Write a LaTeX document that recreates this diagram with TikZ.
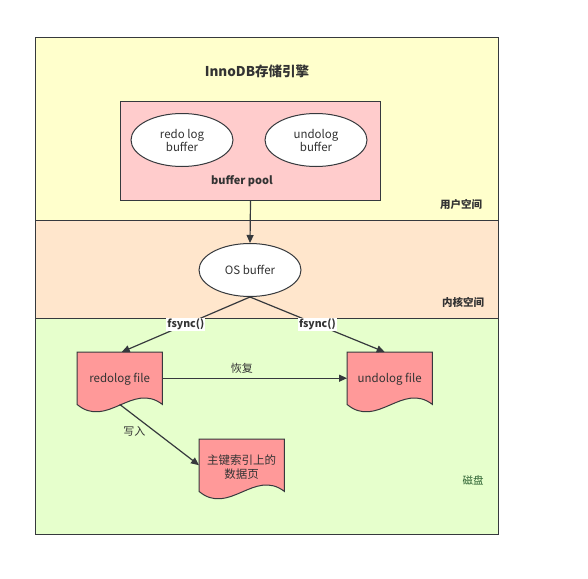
\documentclass[tikz,border=0pt]{standalone}
\usepackage{fontspec}
\setmainfont{Noto Sans CJK SC}
\usetikzlibrary{arrows.meta,shapes.geometric,calc}
\definecolor{edgec}{HTML}{36393D}
\definecolor{txtc}{HTML}{333333}
\definecolor{yelc}{HTML}{FFFFCC}
\definecolor{peachc}{HTML}{FFE6CC}
\definecolor{greenc}{HTML}{E6FFCC}
\definecolor{poolc}{HTML}{FFCCCC}
\definecolor{docc}{HTML}{FF9999}
\tikzset{
  region/.style={draw=edgec, line width=1pt, inner sep=0pt, anchor=north west, minimum width=463pt},
  ell/.style={ellipse, draw=edgec, fill=white, line width=1pt, inner sep=0pt, minimum width=102pt, minimum height=53pt, align=center, font=\fontsize{11.5}{13}\selectfont, text=txtc},
  docnode/.style={inner sep=0pt, minimum width=85pt, minimum height=52pt, anchor=north west},
  doctext/.style={anchor=center, align=center, font=\fontsize{11.5}{14}\selectfont, text=txtc},
  lbl/.style={font=\fontsize{11}{12}\selectfont, text=txtc},
  blbl/.style={font=\bfseries\fontsize{10.5}{12}\selectfont, text=txtc},
  arr/.style={draw=edgec, line width=1.2pt, -{Triangle[length=8pt,width=7pt]}},
  docshape/.style={fill=docc, draw=edgec, line width=1pt, line join=miter}
}
\newcommand{\docdraw}[1]{%
  \path[docshape] (#1.north west) -- (#1.north east) -- (#1.south east)
    .. controls ($(#1.south east)+(-30,-23)$) and ($(#1.south west)+(30,25)$) .. (#1.south west) -- cycle;
}
\begin{document}
\begin{tikzpicture}[x=1pt,y=-1pt]
\useasboundingbox[fill=white] (0,0) rectangle (588,578);
% regions
\node[region, fill=yelc, minimum height=183pt] (user) at (35,37) {};
\node[region, fill=peachc, minimum height=98pt] (kernel) at (35,220) {};
\node[region, fill=greenc, minimum height=216pt] (disk) at (35,318) {};
% titles
\node[font=\bfseries\fontsize{13.5}{16}\selectfont, text=txtc] (title) at (257,71) {InnoDB存储引擎};
\node[blbl] (userlbl) at (461,204) {用户空间};
\node[blbl] (kernlbl) at (463,302) {内核空间};
\node[font=\fontsize{10.5}{12}\selectfont, text=edgec!80!green] (disklbl) at (473,480) {磁盘};
% buffer pool
\node[draw=edgec, fill=poolc, line width=1pt, anchor=north west, minimum width=260pt, minimum height=99pt, inner sep=0pt] (pool) at (120,101) {};
\node[blbl, font=\bfseries\fontsize{11}{13}\selectfont] (poollbl) at (242,181) {buffer pool};
\node[ell] (redobuf) at (182,140) {redo log\\buffer};
\node[ell] (undobuf) at (316,140) {undolog\\buffer};
% OS buffer
\node[ell] (osb) at (250,270) {OS buffer};
% documents
\node[docnode] (redo) at (77,352) {};
\docdraw{redo}
\node[doctext] (redotxt) at ($(redo.center)+(0,1)$) {redolog file};
\node[docnode] (undo) at (347,352) {};
\docdraw{undo}
\node[doctext] (undotxt) at ($(undo.center)+(0,1)$) {undolog file};
\node[docnode] (page) at (199,439) {};
\docdraw{page}
\node[doctext] (pagetxt) at ($(page.center)+(0,2)$) {主键索引上的\\数据页};
% connectors
\draw[arr] (pool.south) -- (osb.north);
\draw[arr] (osb.south) -- node[pos=0.5, fill=white, inner sep=1pt, font=\bfseries\fontsize{10.5}{12}\selectfont, text=txtc] {fsync()} ($(redo.north)+(2,0)$);
\draw[arr] (osb.south) -- node[pos=0.5, fill=white, inner sep=1pt, font=\bfseries\fontsize{10.5}{12}\selectfont, text=txtc] {fsync()} ($(undo.north)+(-5,0)$);
\draw[arr] (redo.east) -- node[pos=0.43, above=1pt, lbl] {恢复} (undo.west);
\draw[arr] (redo.south) -- node[pos=0.45, left=6pt, lbl] {写入} (page.west);
\end{tikzpicture}
\end{document}
